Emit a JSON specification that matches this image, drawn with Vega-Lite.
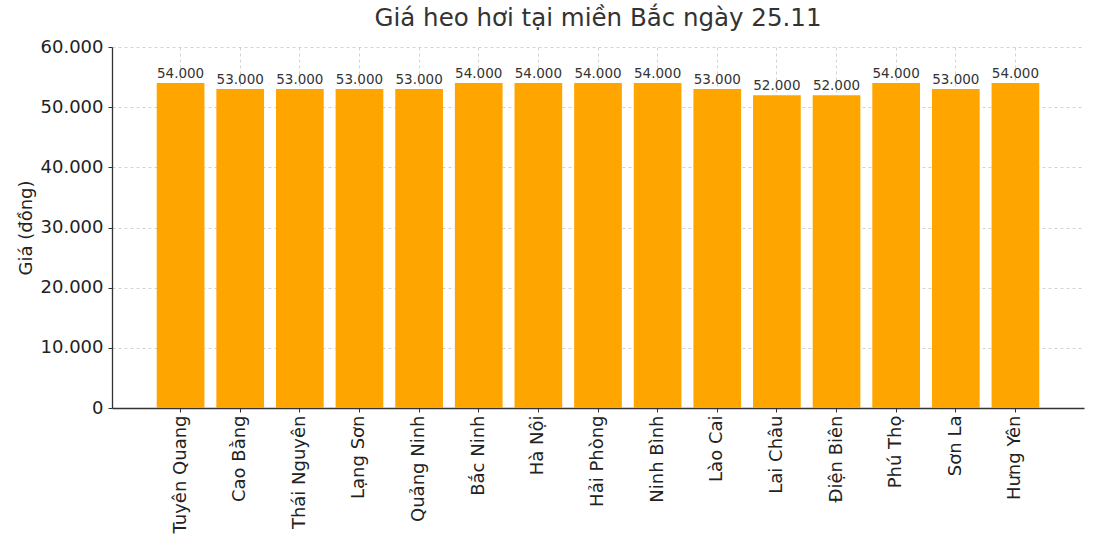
{
  "$schema": "https://vega.github.io/schema/vega-lite/v6.json",
  "width": 972,
  "height": 361,
  "autosize": {"type": "none"},
  "padding": {"left": 112, "top": 47, "right": 16, "bottom": 142},
  "background": "white",
  "config": {
    "font": "DejaVu Sans",
    "view": {"stroke": null},
    "axis": {
      "domainColor": "#333333",
      "domainWidth": 1.3,
      "tickColor": "#333333",
      "labelColor": "#222222",
      "titleColor": "#222222",
      "gridColor": "#c8c8c8",
      "gridDash": [3, 3],
      "gridWidth": 0.8
    }
  },
  "title": {
    "text": "Giá heo hơi tại miền Bắc ngày 25.11",
    "fontSize": 24.5,
    "fontWeight": "normal",
    "color": "#333333",
    "offset": 7
  },
  "data": {
    "values": [
      {"tinh": "Tuyên Quang", "gia": 54000},
      {"tinh": "Cao Bằng", "gia": 53000},
      {"tinh": "Thái Nguyên", "gia": 53000},
      {"tinh": "Lạng Sơn", "gia": 53000},
      {"tinh": "Quảng Ninh", "gia": 53000},
      {"tinh": "Bắc Ninh", "gia": 54000},
      {"tinh": "Hà Nội", "gia": 54000},
      {"tinh": "Hải Phòng", "gia": 54000},
      {"tinh": "Ninh Bình", "gia": 54000},
      {"tinh": "Lào Cai", "gia": 53000},
      {"tinh": "Lai Châu", "gia": 52000},
      {"tinh": "Điện Biên", "gia": 52000},
      {"tinh": "Phú Thọ", "gia": 54000},
      {"tinh": "Sơn La", "gia": 53000},
      {"tinh": "Hưng Yên", "gia": 54000}
    ]
  },
  "encoding": {
    "x": {
      "field": "tinh",
      "type": "nominal",
      "sort": null,
      "scale": {"paddingInner": 0.2, "paddingOuter": 0.75},
      "axis": {
        "title": null,
        "labelAngle": -90,
        "labelFontSize": 18,
        "labelPadding": 3,
        "tickSize": 4,
        "grid": true,
        "bandPosition": 0.5
      }
    },
    "y": {
      "field": "gia",
      "type": "quantitative",
      "scale": {"domain": [0, 60000]},
      "axis": {
        "title": "Giá (đồng)",
        "titleFontSize": 18,
        "titleFontWeight": "normal",
        "titlePadding": 5,
        "labelFontSize": 18,
        "labelPadding": 5,
        "tickSize": 4,
        "values": [0, 10000, 20000, 30000, 40000, 50000, 60000],
        "labelExpr": "replace(format(datum.value, ','), ',', '.')",
        "grid": true
      }
    }
  },
  "layer": [
    {"mark": {"type": "bar", "color": "#FFA500"}},
    {
      "transform": [{"calculate": "replace(format(datum.gia, ','), ',', '.')", "as": "lbl"}],
      "mark": {"type": "text", "dy": -9, "fontSize": 13.5, "color": "#333333"},
      "encoding": {
        "text": {"field": "lbl", "type": "nominal"}
      }
    }
  ]
}
